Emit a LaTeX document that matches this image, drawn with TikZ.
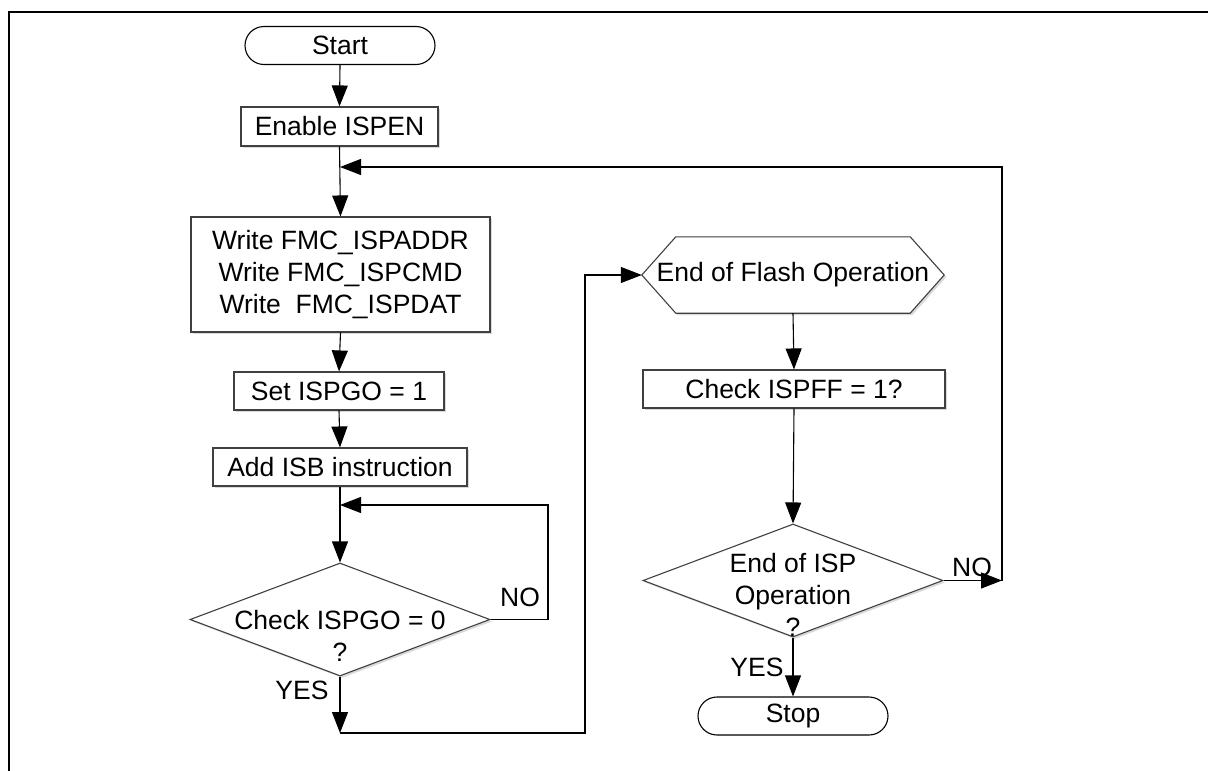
\documentclass[tikz,border=0pt]{standalone}
\usepackage{fontspec}
\setmainfont{Liberation Sans}
\usetikzlibrary{arrows.meta,shapes.geometric,shadows}
\begin{document}
\begin{tikzpicture}[x=1pt,y=-1pt,
  font=\fontsize{26.5}{32}\selectfont,
  shd/.style={drop shadow={shadow xshift=2pt,shadow yshift=-2pt,fill=gray!30,opacity=1}},
  box/.style={draw=black!75,line width=1.1pt,fill=white,shd,inner sep=0pt},
  term/.style={draw=black,line width=1.1pt,fill=white,rounded corners=19pt,minimum width=190pt,minimum height=38pt,inner sep=0pt},
  dia/.style={diamond,draw=black!75,line width=1.1pt,fill=white,shd,inner sep=0pt,minimum width=300pt,minimum height=113pt},
  txt/.style={inner sep=0pt,align=center},
  lbl/.style={inner sep=0pt},
  con/.style={line width=1.1pt,draw=black},
  arr/.style={con,-{Triangle[length=21pt,width=16pt]}}
]
\useasboundingbox (0,0) rectangle (1208,771);
% frame (only top and left edges visible)
\draw[line width=2.6pt] (9,771) -- (9,12) -- (1208,12);

% nodes
\node[term] (start) at (340,45.5) {Start};
\node[box,minimum width=197pt,minimum height=39pt] (enable) at (339.5,126.5) {Enable ISPEN};
\node[box,minimum width=299pt,minimum height=115pt,align=center] (write) at (340.5,274.5) {Write FMC\_ISPADDR\\Write FMC\_ISPCMD\\Write\ \ FMC\_ISPDAT};
\node[box,minimum width=210pt,minimum height=38pt] (set) at (339,391) {Set ISPGO = 1};
\node[box,minimum width=254pt,minimum height=38pt] (add) at (340,467) {Add ISB instruction};
\node[dia] (d1) at (340,619.5) {};
\node[txt] (d1t) at (340,636) {Check ISPGO = 0\\?};
\node[lbl] (no1) at (520,597) {NO};
\node[lbl] (yes1) at (302,690) {YES};

\node[inner sep=0pt,minimum width=302pt,minimum height=76pt] (hex) at (793,275) {};
\path[draw=black!75,line width=1.1pt,fill=white,shd]
  (hex.west) -- ([xshift=34pt]hex.north west) -- ([xshift=-34pt]hex.north east)
  -- (hex.east) -- ([xshift=-34pt]hex.south east) -- ([xshift=34pt]hex.south west) -- cycle;
\node[txt] (hext) at (hex.center) {End of Flash Operation};
\node[box,minimum width=302pt,minimum height=38pt] (chk) at (794,389) {Check ISPFF = 1?};
\node[dia] (d2) at (793,580.5) {};
\node[txt] (d2t) at (793,595) {End of ISP\\Operation\\?};
\node[lbl] (no2) at (972,567) {NO};
\node[lbl] (yes2) at (757,667) {YES};
\node[term] (stop) at (793,716) {Stop};

% coordinates
\coordinate (j1) at (340,167);
\coordinate (j2) at (340,505);
\coordinate (c1) at (340,733);
\coordinate (c2) at (1002,580.5);

% connectors
\draw[arr] (start.south) -- (enable.north);
\draw[arr] (enable.south) -- (write.north);
\draw[arr] (write.south) -- (set.north);
\draw[arr] (set.south) -- (add.north);
\draw[arr] (add.south) -- (d1.north);
\draw[arr] (d1.east) -- (548,619.5) -- (548,505) -- (j2);
\draw[arr] (d1.south) -- (c1);
\draw[arr] (c1) -- (585,733) -- (585,275) -- (hex.west);
\draw[arr] (hex.south) -- (chk.north);
\draw[arr] (chk.south) -- (d2.north);
\draw[arr] (d2.east) -- (c2);
\draw[arr] (c2) -- (1002,167) -- (j1);
\draw[arr] (d2.south) -- (stop.north);
\end{tikzpicture}
\end{document}
